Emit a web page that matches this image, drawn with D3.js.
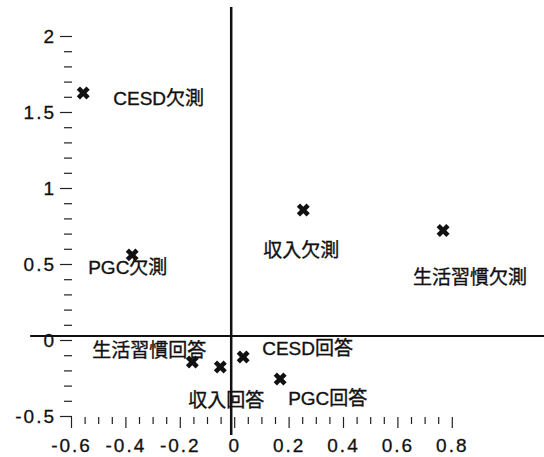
<!DOCTYPE html>
<html>
<head>
<meta charset="utf-8">
<script src="https://cdn.jsdelivr.net/npm/d3@7"></script>
<style>
  body { margin: 0; background: #fff; }
  text { font-family: "Liberation Sans", Arial, "Noto Sans CJK JP", sans-serif; fill: #111; }
</style>
</head>
<body>
<div id="chart"></div>
<script>
// Data
const labels = ["CESD欠測", "PGC欠測", "収入欠測", "生活習慣欠測", "生活習慣回答", "収入回答", "CESD回答", "PGC回答"];
const xValues = [-0.555, -0.375, 0.254, 0.768, -0.154, -0.051, 0.033, 0.169];
const yValues = [1.625, 0.56, 0.855, 0.72, -0.145, -0.178, -0.112, -0.257];

const xTicks = [-0.6, -0.4, -0.2, 0, 0.2, 0.4, 0.6, 0.8];
const xTickLabels = ["-0.6", "-0.4", "-0.2", "0", "0.2", "0.4", "0.6", "0.8"];
const yTicks = [-0.5, 0, 0.5, 1, 1.5, 2];
const yTickLabels = ["-0.5", "0", "0.5", "1", "1.5", "2"];

const width = 544, height = 457;

const svg = d3.select("#chart")
  .append("svg")
  .attr("width", width)
  .attr("height", height);

// Scales
const x = d3.scaleLinear().domain([-0.6, 0.8]).range([71, 451.8]);
const y = d3.scaleLinear().domain([-0.5, 2]).range([416, 36]);

// Minor ticks
const xMinor = d3.range(-0.6, 0.8001, 0.05).filter(v => !xTicks.some(t => Math.abs(t - v) < 1e-6));
const yMinor = d3.range(-0.5, 2.0001, 0.1).filter(v => !yTicks.some(t => Math.abs(t - v) < 1e-6));

// x axis (ticks only, no spine)
const xAxisG = svg.append("g").attr("transform", `translate(0,${y(-0.5) + 1})`);
xAxisG.append("g")
  .call(d3.axisBottom(x).tickValues(xMinor).tickSize(7).tickFormat(""));
xAxisG.append("g")
  .call(d3.axisBottom(x).tickValues(xTicks).tickSize(11).tickPadding(11)
    .tickFormat((d, i) => xTickLabels[i]));

// y axis
const yAxisG = svg.append("g").attr("transform", `translate(${x(-0.6) + 1},0)`);
yAxisG.append("g")
  .call(d3.axisLeft(y).tickValues(yMinor).tickSize(8).tickFormat(""));
yAxisG.append("g")
  .call(d3.axisLeft(y).tickValues(yTicks).tickSize(12).tickPadding(4)
    .tickFormat((d, i) => yTickLabels[i]));

svg.selectAll(".domain").remove();
svg.selectAll(".tick line").attr("stroke", "#222").attr("stroke-width", 1.2);
svg.selectAll(".tick text")
  .attr("fill", "#111")
  .attr("stroke", "#111")
  .attr("stroke-width", 0.3)
  .style("font-size", "19px")
  .style("letter-spacing", "2px")
  .style("font-family", "'Liberation Sans', Arial, sans-serif");

// Reference lines through the origin
svg.append("line")
  .attr("x1", x(-0.75)).attr("x2", width)
  .attr("y1", y(0) - 4).attr("y2", y(0) - 4)
  .attr("stroke", "#111").attr("stroke-width", 2);

svg.append("line")
  .attr("x1", x(0) - 3).attr("x2", x(0) - 3)
  .attr("y1", y(2.19)).attr("y2", y(-0.625))
  .attr("stroke", "#111").attr("stroke-width", 2.5);

// Points as heavy x marks
const mark = d3.symbol().type(d3.symbolCross).size(105);
const points = labels.map((l, i) => ({ label: l, x: xValues[i], y: yValues[i] }));

svg.selectAll(".pt")
  .data(points)
  .enter()
  .append("path")
  .attr("class", "pt")
  .attr("d", mark)
  .attr("fill", "#111")
  .attr("transform", d => `translate(${x(d.x)},${y(d.y)}) rotate(45)`);

// Label placement relative to each point (pixels)
const labelOffsets = [[30, 5], [-44, 13], [-40, 40], [-30, 47], [-100, -12], [-32, 33], [19, -9], [8, 19]];

svg.selectAll(".lbl")
  .data(points)
  .enter()
  .append("text")
  .attr("class", "lbl")
  .attr("x", (d, i) => x(d.x) + labelOffsets[i][0])
  .attr("y", (d, i) => y(d.y) + labelOffsets[i][1])
  .attr("dominant-baseline", "central")
  .attr("stroke", "#111")
  .attr("stroke-width", 0.35)
  .style("font-size", "19px")
  .text(d => d.label);
</script>
</body>
</html>
